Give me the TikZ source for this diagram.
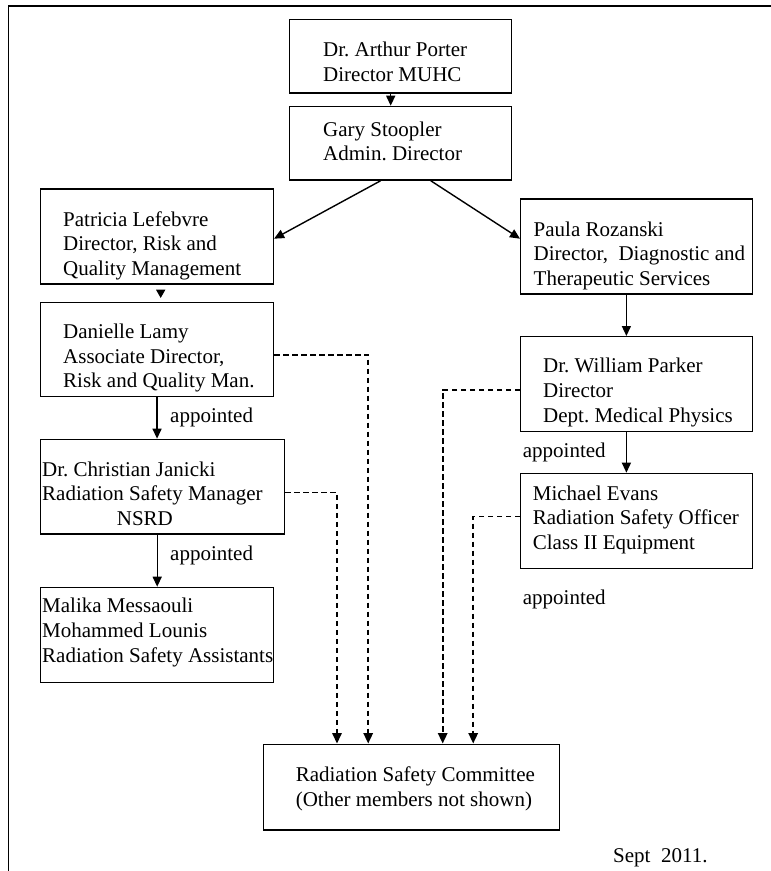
\documentclass[tikz,border=0pt]{standalone}
\usepackage{fontspec}
\setmainfont{Liberation Serif}
\usetikzlibrary{arrows.meta}
\newcommand{\mylines}[1]{\begin{tabular}[t]{@{}l@{}}#1\end{tabular}}
\frenchspacing
\begin{document}
\begin{tikzpicture}[x=1pt,y=-1pt,
  box/.style={draw, line width=1.4pt, inner sep=0pt, anchor=north west},
  txt/.style={anchor=base west, inner sep=0pt, font=\fontsize{21}{24.7}\selectfont\frenchspacing},
  arr/.style={line width=1.4pt, -{Triangle[length=10pt,width=9pt]}},
  darr/.style={line width=1.6pt, dash pattern=on 5.5pt off 3.5pt, -{Triangle[length=10.5pt,width=9.5pt]}},
  frame/.style={line width=1.6pt}
]
\useasboundingbox (0,0) rectangle (771,871);
\draw[frame] (8.3,871) -- (8.3,6) -- (771,6);

% boxes
\node[box, minimum width=222pt, minimum height=73.3pt] (porter) at (289,19) {};
\node[box, minimum width=222pt, minimum height=73.6pt] (stoop) at (289,105.7) {};
\node[box, minimum width=232.7pt, minimum height=95pt] (lef) at (40,188.3) {};
\node[box, minimum width=232pt, minimum height=95pt] (roz) at (520,198.3) {};
\node[box, minimum width=232.7pt, minimum height=94pt] (lamy) at (40,301.7) {};
\node[box, minimum width=232pt, minimum height=94.7pt] (parker) at (520,336) {};
\node[box, minimum width=244pt, minimum height=94.6pt] (jan) at (40,438.7) {};
\node[box, minimum width=232pt, minimum height=95pt] (evans) at (520,472.7) {};
\node[box, minimum width=233pt, minimum height=95pt] (malika) at (40,586.7) {};
\node[box, minimum width=296.4pt, minimum height=85.8pt] (comm) at (262.6,743.5) {};

% texts
\node[txt] (porterT) at (323,56.7) {\mylines{Dr. Arthur Porter\\Director MUHC}};
\node[txt] (stoopT) at (323,136) {\mylines{Gary Stoopler\\Admin. Director}};
\node[txt] (lefT) at (63,226) {\mylines{Patricia Lefebvre\\Director, Risk and\\Quality Management}};
\node[txt] (rozT) at (533.5,236) {\mylines{Paula Rozanski\\Director,\ \ Diagnostic and\\Therapeutic Services}};
\node[txt] (lamyT) at (63,338.5) {\mylines{Danielle Lamy\\Associate Director,\\Risk and Quality Man.}};
\node[txt] (parkerT) at (543,372.7) {\mylines{Dr. William Parker\\Director\\Dept. Medical Physics}};
\node[txt] (janT) at (42,476) {\mylines{Dr. Christian Janicki\\Radiation Safety Manager\\\hspace*{74.7pt}NSRD}};
\node[txt] (evansT) at (532.7,500) {\mylines{Michael Evans\\Radiation Safety Officer\\Class II Equipment}};
\node[txt] (malikaT) at (42,612.7) {\mylines{Malika Messaouli\\Mohammed Lounis\\Radiation Safety Assistants}};
\node[txt] (commT) at (295.6,781.7) {\mylines{Radiation Safety Committee\\(Other members not shown)}};
\node[txt] (sept) at (613,862) {Sept\ \ 2011.};

\node[txt] (ap1) at (170,422.7) {appointed};
\node[txt] (ap2) at (170,560) {appointed};
\node[txt] (ap3) at (522.7,457) {appointed};
\node[txt] (ap4) at (522.7,604) {appointed};

% solid connectors
\draw[arr] ([xshift=-10pt]porter.south) -- ([xshift=-10pt]stoop.north);
\draw[arr] ([xshift=-20pt]stoop.south) -- ([yshift=-2.2pt]lef.east);
\draw[arr] ([xshift=30pt]stoop.south) -- ([yshift=7.8pt]roz.west);
\draw[line width=1.4pt, -{Triangle[length=8.3pt,width=9pt]}, shorten <=6.4pt, shorten >=3.7pt]
  ([xshift=3.65pt]lef.south) -- ([xshift=3.65pt]lamy.north);
\draw[arr] (lamy.south) -- (lamy.south |- jan.north);
\draw[arr] (malika.north |- jan.south) -- (malika.north);
\draw[arr] ([xshift=-10.3pt]roz.south) -- ([xshift=-10.3pt]parker.north);
\draw[arr] ([xshift=-10.3pt]parker.south) -- ([xshift=-10.3pt]evans.north);

% dashed connectors
\draw[darr] ([yshift=-5.3pt]lamy.east) -| ([xshift=-43.3pt]comm.north);
\draw[darr] ([yshift=-5.7pt]jan.east) -| ([xshift=-74.5pt]comm.north);
\draw[darr] ([yshift=-5.65pt]parker.west) -| ([xshift=31.2pt]comm.north);
\draw[darr] ([yshift=4.5pt]evans.west) -| ([xshift=61.7pt]comm.north);
\end{tikzpicture}
\end{document}
